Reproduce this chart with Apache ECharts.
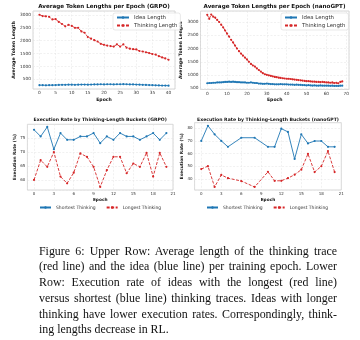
<!DOCTYPE html>
<html><head><meta charset="utf-8">
<script src="https://cdn.jsdelivr.net/npm/echarts@6/dist/echarts.min.js"></script>
<style>
html,body{margin:0;padding:0;background:#fff;}
#chart{position:absolute;left:0;top:0;width:360px;height:340px;}
#cap{position:absolute;left:39px;top:243.5px;width:298px;font-family:'Liberation Serif','Times New Roman',serif;font-size:11.9px;line-height:15.8px;color:#111;}
#cap div{text-align:justify;text-align-last:justify;}
#cap div.last{text-align-last:left;}
</style></head><body>
<div id="chart"></div>
<div id="cap"></div>
<script>
// ---------- data ----------
const epochsGrpoLen = [0,1,2,3,4,5,6,7,8,9,10,11,12,13,14,15,16,17,18,19,20,21,22,23,24,25,26,27,28,29,30,31,32,33,34,35,36,37,38,39,40];
const grpoIdeaLen = [270,270,265,270,270,275,280,285,285,290,290,285,290,295,295,290,295,300,300,305,300,305,305,300,305,305,310,305,300,300,295,290,285,280,275,270,265,260,255,255,250];
const grpoThinkLen = [3010,2960,2950,2930,2830,2840,2730,2650,2560,2620,2580,2500,2500,2360,2310,2140,2080,2020,1970,1880,1840,1810,1790,1770,1860,1770,1860,1730,1690,1670,1660,1600,1580,1550,1520,1480,1460,1400,1350,1310,1260];

const epochsNanoLen = [0,1,2,3,4,5,6,7,8,9,10,11,12,13,14,15,16,17,18,19,20,21,22,23,24,25,26,27,28,29,30,31,32,33,34,35,36,37,38,39,40,41,42,43,44,45,46,47,48,49,50,51,52,53,54,55,56,57,58,59,60,61,62,63,64,65,66,67,68];
const nanoIdeaLen = [690,700,700,710,710,720,720,720,730,740,740,750,740,750,740,730,730,720,720,720,710,710,720,710,700,700,680,680,670,670,680,670,660,660,650,650,650,660,650,650,650,640,640,640,630,640,630,630,620,620,610,620,610,600,610,600,600,610,600,600,600,600,595,600,590,595,590,600,600];
const nanoThinkLen = [3270,3120,3280,3200,3170,3080,3000,2900,2800,2680,2560,2450,2330,2230,2110,2000,1900,1810,1730,1660,1590,1500,1420,1360,1320,1250,1190,1130,1070,1030,1010,990,970,950,930,920,900,890,880,870,860,860,850,840,830,820,810,800,790,780,770,770,760,750,750,740,740,730,740,730,720,720,710,720,700,710,690,740,760];

const epochsGrpoExec = [0,1,2,3,4,5,6,7,8,9,10,11,12,13,14,15,16,17,18,19,20];
const grpoShortest = [78.0,75.6,79.0,71.0,76.8,74.4,74.4,75.6,75.6,76.8,73.2,75.6,74.4,76.8,75.6,75.6,74.4,75.6,76.8,74.4,76.8];
const grpoLongest = [60.0,67.1,64.7,70.0,61.2,58.8,62.6,69.5,68.3,64.7,57.5,63.5,68.3,68.3,62.4,65.9,64.7,69.7,61.2,69.7,64.7];

const epochsNanoExec = [0,1,2,3,4,6,8,10,11,12,13,14,15,16,17,18,19,20];
const nanoShortest = [70.0,82.0,75.2,70.0,65.3,72.5,72.5,65.3,65.3,79.7,77.1,55.7,75.2,68.0,69.9,69.9,65.3,65.3];
const nanoLongest = [47.7,50.0,33.5,43.0,40.5,38.2,33.5,45.5,38.4,38.4,40.5,43.2,47.2,59.7,45.3,49.9,61.9,45.3];

const titles = ['Average Token Lengths per Epoch (GRPO)','Average Token Lengths per Epoch (nanoGPT)','Execution Rate by Thinking-Length Buckets (GRPO)','Execution Rate by Thinking-Length Buckets (nanoGPT)'];
const captionLines = [
 'Figure 6: Upper Row: Average length of the thinking trace',
 '(red line) and the idea (blue line) per training epoch. Lower',
 'Row: Execution rate of ideas with the longest (red line)',
 'versus shortest (blue line) thinking traces. Ideas with longer',
 'thinking have lower execution rates. Correspondingly, think-',
 'ing lengths decrease in RL.'
];

// ---------- build ----------
const BLUE = '#1f77b4', RED = '#d62728', FONT = 'DejaVu Sans';
const pairs = (xs, ys) => xs.map((x, i) => [x, ys[i]]);

const grids = [
  {left: 33, top: 11, width: 142, height: 78},
  {left: 200.5, top: 11, width: 148.5, height: 78.5},
  {left: 27.4, top: 124.3, width: 145.6, height: 65.7},
  {left: 194.6, top: 122.7, width: 146.7, height: 67.3}
].map(g => Object.assign(g, {show: true, borderColor: '#bdbdbd', borderWidth: 0.6, containLabel: false}));

function axis(gi, min, max, split, name, gap, isY, showMax, fs) {
  return {
    type: 'value', gridIndex: gi, min: min, max: max, splitNumber: split,
    name: name, nameLocation: 'middle', nameGap: gap, nameRotate: isY ? 90 : 0,
    nameTextStyle: {fontFamily: FONT, fontWeight: 'bold', fontSize: fs, color: '#111'},
    axisLine: {show: false}, axisTick: {show: false},
    axisLabel: {fontFamily: FONT, fontSize: fs - 0.3, color: '#333', margin: 2, showMinLabel: false, showMaxLabel: showMax,
      formatter: v => String(v)},
    splitLine: {show: true, lineStyle: {color: '#e3e3e3', width: 0.5, type: [2, 1.5]}}
  };
}

const xAxes = [
  axis(0, -2, 42, 9, 'Epoch', 8, false, false, 4.6),
  axis(1, -3.4, 71.4, 8, 'Epoch', 8, false, false, 4.6),
  axis(2, -1, 21, 7, 'Epoch', 7.5, false, true, 4.3),
  axis(3, -1, 21, 7, 'Epoch', 7.5, false, true, 4.3)
];
const yAxes = [
  axis(0, 121, 3156, 6, 'Average Token Length', 13.5, true, false, 4.6),
  axis(1, 455, 3415, 6, 'Average Token Length', 14, true, false, 4.6),
  axis(2, 56.4, 79.95, 5, 'Execution Rate (%)', 9.5, true, false, 4.3),
  axis(3, 31.1, 84.4, 5, 'Execution Rate (%)', 8.5, true, false, 4.3)
];

function ser(name, gi, data, color, dashed) {
  return {
    name: name, type: 'line', xAxisIndex: gi, yAxisIndex: gi, data: data,
    symbol: 'circle', symbolSize: 2.2, showSymbol: true,
    itemStyle: {color: color}, lineStyle: {color: color, width: 0.9, type: dashed ? [3, 1.5] : 'solid'},
    animation: false, z: dashed ? 3 : 2
  };
}

const series = [
  ser('Idea Length', 0, pairs(epochsGrpoLen, grpoIdeaLen), BLUE, false),
  ser('Thinking Length', 0, pairs(epochsGrpoLen, grpoThinkLen), RED, true),
  ser('Idea Length', 1, pairs(epochsNanoLen, nanoIdeaLen), BLUE, false),
  ser('Thinking Length', 1, pairs(epochsNanoLen, nanoThinkLen), RED, true),
  ser('Shortest Thinking', 2, pairs(epochsGrpoExec, grpoShortest), BLUE, false),
  ser('Longest Thinking', 2, pairs(epochsGrpoExec, grpoLongest), RED, true),
  ser('Shortest Thinking', 3, pairs(epochsNanoExec, nanoShortest), BLUE, false),
  ser('Longest Thinking', 3, pairs(epochsNanoExec, nanoLongest), RED, true)
];

const titleCenters = [[104, 3.5], [274.5, 3.5], [100.2, 117.5], [268, 117.5]];
const title = titles.map((t, i) => ({
  text: t, left: titleCenters[i][0], top: titleCenters[i][1], textAlign: 'center', padding: 0,
  textStyle: {fontFamily: FONT, fontWeight: 'bold', fontSize: i < 2 ? 5.6 : 4.6, color: '#111'}
}));

const legTop = {orient: 'vertical', itemWidth: 12, itemHeight: 3, itemGap: 3, padding: [2, 3],
  backgroundColor: 'rgba(255,255,255,0.85)', borderColor: '#d0d0d0', borderWidth: 0.5, borderRadius: 2,
  textStyle: {fontFamily: FONT, fontSize: 5.4, color: '#333'}, data: ['Idea Length', 'Thinking Length']};
const legBot = {orient: 'horizontal', itemWidth: 11, itemHeight: 3, itemGap: 10, padding: 0,
  textStyle: {fontFamily: FONT, fontSize: 4.5, color: '#333'}, data: ['Shortest Thinking', 'Longest Thinking']};
const legend = [
  Object.assign({}, legTop, {left: 113, top: 13}),
  Object.assign({}, legTop, {left: 281, top: 13}),
  Object.assign({}, legBot, {left: 39, top: 205}),
  Object.assign({}, legBot, {left: 206, top: 205})
];

const chart = echarts.init(document.getElementById('chart'), null, {renderer: 'canvas'});
chart.setOption({
  backgroundColor: '#fff', animation: false,
  title: title, legend: legend, grid: grids, xAxis: xAxes, yAxis: yAxes, series: series
});

const cap = document.getElementById('cap');
captionLines.forEach((l, i) => {
  const d = document.createElement('div');
  d.textContent = l;
  if (i === captionLines.length - 1) d.className = 'last';
  cap.appendChild(d);
});
</script></body></html>
